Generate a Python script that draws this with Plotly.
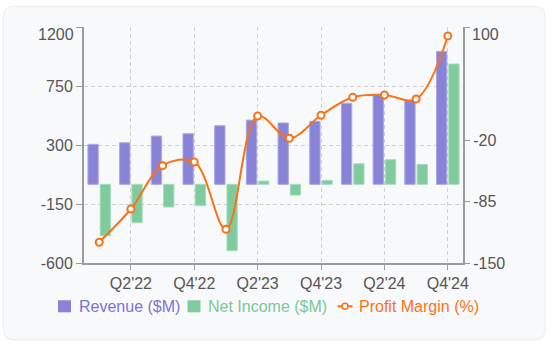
import plotly.graph_objects as go

# Quarterly financials
quarters = ["Q1'22", "Q2'22", "Q3'22", "Q4'22",
            "Q1'23", "Q2'23", "Q3'23", "Q4'23",
            "Q1'24", "Q2'24", "Q3'24", "Q4'24"]
revenue = [305, 317, 368, 386, 447, 490, 468, 480, 618, 681, 638, 1014]
net_income = [-392, -293, -173, -163, -506, 25, -82, 30, 157, 188, 152, 918]
profit_margin = [-128.0, -92.8, -46.9, -43.0, -114.3, 5.7, -17.9, 6.5, 25.5, 28.0, 23.7, 90.5]

left_ticks = [-600, -150, 300, 750, 1200]
right_ticks = [-150, -85, -20, 100]
x_ticks = ["Q2'22", "Q4'22", "Q2'23", "Q4'23", "Q2'24", "Q4'24"]

REV_COLOR = "#8983d8"
REV_EDGE = "#aba6e6"
NI_COLOR = "#80cb9e"
NI_EDGE = "#a6dcbb"
PM_COLOR = "#f97316"
REV_TEXT = "#7b74d6"
NI_TEXT = "#78c898"
AXIS_COLOR = "#9b9b9b"
GRID_COLOR = "#cfcfd4"
TEXT_COLOR = "#555555"
FONT = "Liberation Sans, Arial, sans-serif"

W, H = 553, 346
L, R, T, B = 84, 463, 26.7, 262.7  # plot area in pixels


def px_x(px):
    return (px - L) / (R - L)


def px_y(py):
    return (B - py) / (B - T)


fig = go.Figure()
fig.add_trace(go.Bar(x=quarters, y=revenue, name="Revenue ($M)",
                     marker=dict(color=REV_COLOR, line=dict(color=REV_EDGE, width=1))))
fig.add_trace(go.Bar(x=quarters, y=net_income, name="Net Income ($M)",
                     marker=dict(color=NI_COLOR, line=dict(color=NI_EDGE, width=1))))
fig.add_trace(go.Scatter(x=quarters, y=profit_margin, name="Profit Margin (%)",
                         yaxis="y2", mode="lines+markers",
                         line=dict(color=PM_COLOR, width=2, shape="spline", smoothing=1),
                         marker=dict(size=7, color="white",
                                     line=dict(color=PM_COLOR, width=2))))


# card background with rounded corners
def rounded_rect(x0, y0, x1, y1, r):
    X = px_x
    Y = px_y
    return (f"M {X(x0 + r)},{Y(y0)} L {X(x1 - r)},{Y(y0)} "
            f"Q {X(x1)},{Y(y0)} {X(x1)},{Y(y0 + r)} "
            f"L {X(x1)},{Y(y1 - r)} Q {X(x1)},{Y(y1)} {X(x1 - r)},{Y(y1)} "
            f"L {X(x0 + r)},{Y(y1)} Q {X(x0)},{Y(y1)} {X(x0)},{Y(y1 - r)} "
            f"L {X(x0)},{Y(y0 + r)} Q {X(x0)},{Y(y0)} {X(x0 + r)},{Y(y0)} Z")


shapes = [
    dict(type="path", xref="paper", yref="paper", layer="below",
         path=rounded_rect(3.5, 7, 545.5, 340.5, 11),
         fillcolor="rgba(0,0,0,0.05)", line=dict(width=0)),
    dict(type="path", xref="paper", yref="paper", layer="below",
         path=rounded_rect(3.5, 6, 545, 339, 10),
         fillcolor="#f8f9fb", line=dict(color="#eeeef1", width=1)),
]

# legend row
leg_y = 306
legend_items = [
    (58, 76.5, "Revenue ($M)", REV_COLOR, REV_TEXT, "box"),
    (187.5, 205.8, "Net Income ($M)", NI_COLOR, NI_TEXT, "box"),
    (337.5, 356.7, "Profit Margin (%)", PM_COLOR, PM_COLOR, "line"),
]
annotations = []
for sx, tx, label, color, tcolor, kind in legend_items:
    if kind == "box":
        shapes.append(dict(type="rect", xref="paper", yref="paper",
                           x0=px_x(sx), x1=px_x(sx + 13),
                           y0=px_y(leg_y - 6), y1=px_y(leg_y + 6),
                           fillcolor=color, line=dict(width=0)))
    else:
        shapes.append(dict(type="line", xref="paper", yref="paper",
                           x0=px_x(sx), x1=px_x(sx + 15),
                           y0=px_y(leg_y), y1=px_y(leg_y),
                           line=dict(color=color, width=2)))
        shapes.append(dict(type="circle", xref="paper", yref="paper",
                           x0=px_x(sx + 4.5), x1=px_x(sx + 10.5),
                           y0=px_y(leg_y - 3), y1=px_y(leg_y + 3),
                           fillcolor="white", line=dict(color=color, width=1.5)))
    annotations.append(dict(xref="paper", yref="paper", x=px_x(tx), y=px_y(leg_y),
                            xanchor="left", yanchor="middle", showarrow=False,
                            text=label, font=dict(family=FONT, size=16, color=tcolor)))

# top tick labels sit slightly inside the plot
annotations.append(dict(xref="paper", yref="y", x=0, y=left_ticks[-1], xanchor="right",
                        yanchor="middle", xshift=-8, yshift=-7, showarrow=False,
                        text=str(left_ticks[-1]),
                        font=dict(family=FONT, size=16, color=TEXT_COLOR)))
annotations.append(dict(xref="paper", yref="y2", x=1, y=right_ticks[-1], xanchor="left",
                        yanchor="middle", xshift=7, yshift=-7, showarrow=False,
                        text=str(right_ticks[-1]),
                        font=dict(family=FONT, size=16, color=TEXT_COLOR)))

fig.update_layout(
    width=W, height=H,
    margin=dict(l=L, r=W - R, t=T, b=H - B, autoexpand=False),
    paper_bgcolor="white", plot_bgcolor="rgba(0,0,0,0)",
    font=dict(family=FONT, size=16, color=TEXT_COLOR),
    barmode="group", bargap=0.225, bargroupgap=0.16,
    showlegend=False,
    shapes=shapes, annotations=annotations,
    xaxis=dict(type="category", range=[-0.48, 11.48], tickvals=x_ticks, ticktext=x_ticks,
               showgrid=True, gridcolor=GRID_COLOR, griddash="4px,3px", gridwidth=1,
               showline=True, linecolor=AXIS_COLOR, linewidth=2,
               ticks="outside", ticklen=5, tickcolor=AXIS_COLOR, tickwidth=1,
               zeroline=False, fixedrange=True),
    yaxis=dict(range=[left_ticks[0], left_ticks[-1]], tickvals=left_ticks,
               ticktext=[str(v) for v in left_ticks[:-1]] + [""],
               showgrid=True, gridcolor=GRID_COLOR, griddash="4px,3px", gridwidth=1,
               showline=True, linecolor=AXIS_COLOR, linewidth=2,
               ticks="outside", ticklen=6, tickcolor=AXIS_COLOR, tickwidth=1,
               zeroline=False),
    yaxis2=dict(range=[right_ticks[0], right_ticks[-1]], overlaying="y", side="right",
                tickvals=right_ticks,
                ticktext=[str(v) for v in right_ticks[:-1]] + [""],
                showgrid=False, showline=True, linecolor=AXIS_COLOR, linewidth=2,
                ticks="outside", ticklen=5, tickcolor=AXIS_COLOR, tickwidth=1,
                zeroline=False),
)

fig.write_html("out.html")
